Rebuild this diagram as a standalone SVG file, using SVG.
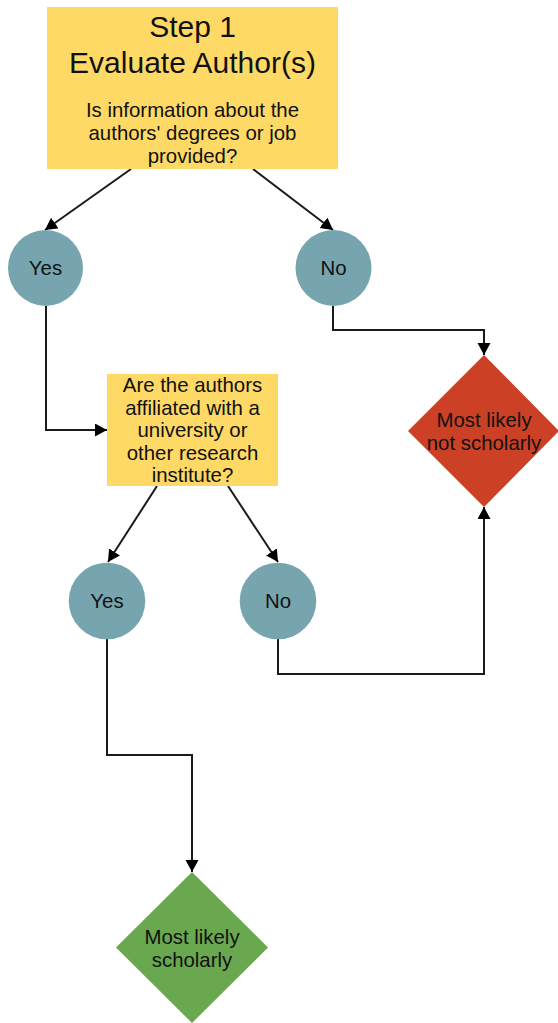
<svg xmlns="http://www.w3.org/2000/svg" width="558" height="1023" viewBox="0 0 558 1023">
  <style>
    text { font-family: "Liberation Sans", Arial, sans-serif; fill: #111; text-anchor: middle; }
    .big { font-size: 30px; }
    .txt { font-size: 20.4px; }
    .box { fill: #ffd966; }
    .circ { fill: #76a5af; }
    .red { fill: #cc4125; }
    .green { fill: #6aa84f; }
    .conn { fill: none; stroke: #1a1a1a; stroke-width: 2; }
  </style>
  <defs>
    <marker id="arrow" markerUnits="userSpaceOnUse" markerWidth="14" markerHeight="14" refX="12" refY="6.5" orient="auto">
      <path d="M0,0 L12,6.5 L0,13 z" fill="#000"/>
    </marker>
  </defs>
  <rect width="558" height="1023" fill="#fff"/>

  <g id="connectors">
    <line class="conn" x1="131" y1="169" x2="45" y2="230" marker-end="url(#arrow)"/>
    <line class="conn" x1="253" y1="169" x2="333" y2="230" marker-end="url(#arrow)"/>
    <polyline class="conn" points="46,306 46,430 107,430" marker-end="url(#arrow)"/>
    <polyline class="conn" points="333,306 333,330 484,330 484,355" marker-end="url(#arrow)"/>
    <line class="conn" x1="157" y1="486" x2="108" y2="562" marker-end="url(#arrow)"/>
    <line class="conn" x1="228" y1="486" x2="278" y2="562" marker-end="url(#arrow)"/>
    <polyline class="conn" points="278,639 278,674 484,674 484,507" marker-end="url(#arrow)"/>
    <polyline class="conn" points="107,639 107,755 192,755 192,872" marker-end="url(#arrow)"/>
  </g>

  <g id="step1">
    <rect class="box" x="47" y="7" width="291" height="162"/>
    <text class="big" x="192.5" y="37">Step 1</text>
    <text class="big" x="192.5" y="73">Evaluate Author(s)</text>
    <text class="txt" x="192.5" y="117">Is information about the</text>
    <text class="txt" x="192.5" y="140">authors' degrees or job</text>
    <text class="txt" x="192.5" y="163">provided?</text>
  </g>

  <g id="yes1">
    <ellipse class="circ" cx="45.5" cy="268" rx="37.5" ry="38"/>
    <text class="txt" x="45.5" y="275">Yes</text>
  </g>

  <g id="no1">
    <ellipse class="circ" cx="333.5" cy="268" rx="38" ry="38"/>
    <text class="txt" x="333.5" y="275">No</text>
  </g>

  <g id="question2">
    <rect class="box" x="107" y="374" width="171" height="112"/>
    <text class="txt" x="192.5" y="392">Are the authors</text>
    <text class="txt" x="192.5" y="414.5">affiliated with a</text>
    <text class="txt" x="192.5" y="437">university or</text>
    <text class="txt" x="192.5" y="459.5">other research</text>
    <text class="txt" x="192.5" y="482">institute?</text>
  </g>

  <g id="notScholarly">
    <polygon class="red" points="484,355 559,431 484,507 408,431"/>
    <text class="txt" x="484" y="427">Most likely</text>
    <text class="txt" x="484" y="450">not scholarly</text>
  </g>

  <g id="yes2">
    <ellipse class="circ" cx="107" cy="601" rx="38.3" ry="38.3"/>
    <text class="txt" x="107" y="608">Yes</text>
  </g>

  <g id="no2">
    <ellipse class="circ" cx="278" cy="601" rx="38.3" ry="38.3"/>
    <text class="txt" x="278" y="608">No</text>
  </g>

  <g id="scholarly">
    <polygon class="green" points="192,872 268,947.5 192,1023 116,947.5"/>
    <text class="txt" x="192" y="944">Most likely</text>
    <text class="txt" x="192" y="967">scholarly</text>
  </g>
</svg>
